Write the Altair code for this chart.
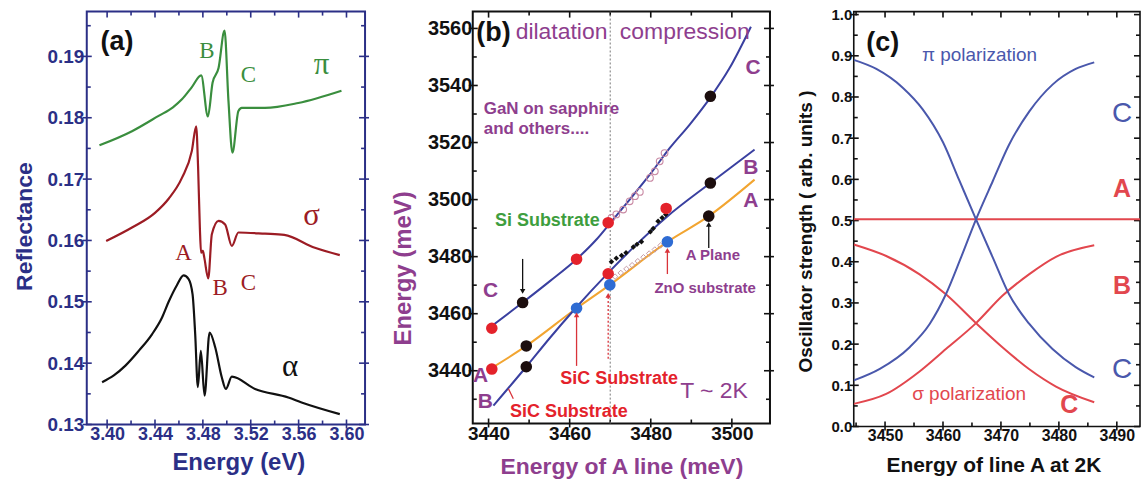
import altair as alt
import pandas as pd

SANS = "Liberation Sans"
SERIF = "Liberation Serif"
NAVY = "#2B2F86"
PURPLE = "#8E3E8E"
GREEN_A = "#3A8E3E"
RED_A = "#9C1C24"
BLACK = "#111111"
BLUE_L = "#3A40A0"
ORANGE = "#F2A531"
DOT_RED = "#E4222B"
DOT_BLUE = "#2F6CD3"
C_BLUE = "#4A58AC"
C_RED = "#E2474E"

# ---------------- panel (a) : reflectance ----------------
A_W, A_H = 279, 414
A_XDOM = [3.383, 3.6155]
A_YDOM = [0.13, 0.1973]
a_xticks = [3.40, 3.44, 3.48, 3.52, 3.56, 3.60]
a_xminor = [3.42, 3.46, 3.50, 3.54, 3.58]
a_yticks = [0.13, 0.14, 0.15, 0.16, 0.17, 0.18, 0.19]
a_yminor = [0.135, 0.145, 0.155, 0.165, 0.175, 0.185, 0.195]

pi_E = [3.3936, 3.4208, 3.4430, 3.4550, 3.4625, 3.4708, 3.4786, 3.4842, 3.4881, 3.4931,
        3.4981, 3.5014, 3.5047, 3.5097, 3.5125, 3.5319, 3.5597, 3.5958]
pi_R = [0.1755, 0.1778, 0.1803, 0.1817, 0.1830, 0.1850, 0.1869, 0.1802, 0.1857, 0.1881,
        0.1942, 0.1827, 0.1743, 0.1811, 0.1816, 0.1816, 0.1824, 0.1844]

sig_E = [3.3992, 3.4208, 3.4400, 3.4514, 3.4625, 3.4708, 3.4744, 3.4760, 3.4775, 3.4785,
         3.4800, 3.4812, 3.4845, 3.4875, 3.4931, 3.4986, 3.5042, 3.5097, 3.5319,
         3.5480, 3.5736, 3.5944]
sig_R = [0.1599, 0.1621, 0.1645, 0.1668, 0.1702, 0.1746, 0.1786, 0.1720, 0.1620, 0.1580,
         0.1583, 0.1572, 0.1538, 0.1610, 0.1632, 0.1626, 0.1591, 0.1613, 0.1611,
         0.1609, 0.1588, 0.1576]

alp_E = [3.3958, 3.4056, 3.4153, 3.4264, 3.4375, 3.4458, 3.4514, 3.4583, 3.4639,
         3.4681, 3.4714, 3.4736, 3.4758, 3.4783, 3.4814, 3.4856, 3.4903, 3.4958,
         3.4992, 3.5042, 3.5236, 3.5514, 3.5625, 3.5944]
alp_R = [0.1369, 0.1380, 0.1396, 0.1420, 0.1447, 0.1474, 0.1500, 0.1527, 0.1543,
         0.1537, 0.1512, 0.1447, 0.1361, 0.1420, 0.1347, 0.1450, 0.1426, 0.1377,
         0.1358, 0.1378, 0.1358, 0.1344, 0.1336, 0.1317]

a_lab_x = [3.4833, 3.5181]
a_lab_y = [0.1908, 0.1869]
a_lab_t = ["B", "C"]
a_red_x = [3.4639, 3.4944, 3.5181]
a_red_y = [0.1580, 0.1523, 0.1531]
a_red_t = ["A", "B", "C"]
a_greek_x = [3.5792, 3.5708, 3.5528]
a_greek_y = [0.1886, 0.1640, 0.1394]
a_greek_t = ["π", "σ", "α"]

# ---------------- panel (b) : energies vs A line ----------------
B_W, B_H = 298, 413
B_XDOM = [3436.1, 3509.4]
B_YDOM = [3421.5, 3565.9]
b_xticks = [3440, 3460, 3480, 3500]
b_xminor = [3450, 3470, 3490]
b_yticks = [3440, 3460, 3480, 3500, 3520, 3540, 3560]
b_yminor = [3430, 3450, 3470, 3490, 3510, 3530, 3550]

lineC_X = [3440.8, 3448.4, 3455.2, 3461.7, 3466.6, 3470.7, 3474.8, 3479.8, 3484.7,
           3489.6, 3494.9, 3499.4, 3504.7]
lineC_Y = [3455.7, 3463.9, 3471.5, 3479.1, 3486.0, 3493.0, 3500.0, 3508.8, 3518.1,
           3526.3, 3536.2, 3546.0, 3560.6]
lineB_X = [3441.2, 3449.3, 3455.0, 3461.0, 3469.5, 3476.5, 3484.0, 3494.7, 3505.6]
lineB_Y = [3427.8, 3441.4, 3451.3, 3461.2, 3474.3, 3484.3, 3494.0, 3505.8, 3517.5]
lineA_X = [3440.8, 3449.3, 3461.7, 3469.9, 3484.1, 3494.3, 3505.6]
lineA_Y = [3441.0, 3448.7, 3461.9, 3470.1, 3485.2, 3494.2, 3507.0]

black_X = [3448.4, 3449.3, 3449.3, 3494.7, 3494.7, 3494.3]
black_Y = [3463.9, 3448.7, 3441.4, 3536.2, 3505.8, 3494.2]
red_X = [3440.8, 3440.8, 3461.7, 3469.5, 3469.5, 3483.8]
red_Y = [3454.9, 3440.6, 3479.1, 3491.9, 3474.0, 3496.9]
blue_X = [3461.7, 3469.9, 3484.1]
blue_Y = [3461.9, 3470.1, 3485.2]

small_X = [3470.3, 3471.5, 3472.8, 3473.9, 3475.7, 3476.6, 3477.7, 3479.9, 3480.6,
           3481.8, 3482.8, 3483.7]
small_Y = [3478.2, 3479.4, 3480.4, 3481.4, 3483.4, 3484.3, 3485.2, 3488.7, 3489.9,
           3492.4, 3493.6, 3494.8]
openC_X = [3470.3, 3471.5, 3473.2, 3474.8, 3476.1, 3477.3, 3479.8, 3481.0, 3482.2, 3483.4]
openC_Y = [3493.6, 3494.8, 3496.5, 3499.4, 3501.2, 3502.7, 3507.6, 3509.9, 3513.4, 3516.3]
openA_X = [3471.2, 3472.6, 3474.0, 3475.4, 3476.8, 3478.2, 3479.6, 3481.0, 3482.4]
openA_Y = [3473.0, 3474.3, 3475.7, 3477.0, 3478.4, 3479.8, 3481.1, 3482.5, 3483.9]

strain_boundary = [3470]

b_big_x = [3458.0, 3488.4, 3495.6]
b_big_y = [3558.9, 3558.9, 3433.0]
b_big_t = ["dilatation", "compression", "T ~ 2K"]
b_line_x = [3440.5, 3505.2, 3504.7, 3504.7, 3438.0, 3439.2]
b_line_y = [3468.0, 3546.1, 3511.1, 3499.4, 3438.3, 3428.9]
b_line_t = ["C", "C", "B", "A", "A", "B"]
b_gan_x = [3438.8, 3438.8]
b_gan_y = [3531.6, 3524.6]
b_gan_t = ["GaN on sapphire", "and others...."]
b_small_x = [3495.3, 3493.4]
b_small_y = [3480.6, 3469.1]
b_small_t = ["A Plane", "ZnO substrate"]
b_sic_x = [3472.2, 3459.8]
b_sic_y = [3437.2, 3425.4]
b_sic_t = ["SiC Substrate", "SiC Substrate"]
b_si_x = [3454.5]
b_si_y = [3492.4]
b_si_t = ["Si Substrate"]

arrow_blk_x = [3448.4, 3494.3]
arrow_blk_y = [3479.2, 3483.0]
arrow_blk_y2 = [3467.8, 3491.3]
arrow_red_x = [3461.7, 3484.1, 3446.1]
arrow_red_x2 = [3461.7, 3484.1, 3444.9]
arrow_red_y = [3441.7, 3473.9, 3430.2]
arrow_red_y2 = [3459.6, 3482.2, 3433.7]
arrow_dot_x = [3469.5]
arrow_dot_y = [3444.2]
arrow_dot_y2 = [3466.4]

# ---------------- panel (c) : oscillator strength ----------------
C_W, C_H = 287, 416
C_XDOM = [3444.6, 3494.0]
C_YDOM = [0.0, 1.0073]
c_xticks = [3450, 3460, 3470, 3480, 3490]
c_xminor = [3445, 3455, 3465, 3475, 3485]
c_yticks = [0.0, 0.1, 0.2, 0.3, 0.4, 0.5, 0.6, 0.7, 0.8, 0.9, 1.0]
c_yminor = [0.05, 0.15, 0.25, 0.35, 0.45, 0.55, 0.65, 0.75, 0.85, 0.95]

piC1_X = [3444.6, 3448.5, 3453.1, 3456.5, 3460.0, 3462.8, 3465.7, 3468.6, 3471.4,
          3474.9, 3478.9, 3482.9, 3486.1]
piC1_Y = [0.890, 0.868, 0.822, 0.770, 0.690, 0.598, 0.503, 0.410, 0.321,
          0.249, 0.188, 0.144, 0.119]
piC2_X = [3444.6, 3449.1, 3454.2, 3457.7, 3460.5, 3463.1, 3465.7, 3468.6, 3471.4,
          3474.9, 3478.9, 3482.9, 3486.1]
piC2_Y = [0.112, 0.140, 0.192, 0.249, 0.321, 0.410, 0.503, 0.596, 0.684,
          0.765, 0.830, 0.868, 0.884]
sgC1_X = [3444.6, 3450.2, 3455.9, 3460.5, 3465.7, 3470.3, 3474.9, 3479.5, 3486.1]
sgC1_Y = [0.442, 0.414, 0.370, 0.321, 0.251, 0.192, 0.139, 0.097, 0.059]
sgC2_X = [3444.6, 3450.2, 3455.9, 3460.5, 3465.7, 3470.3, 3474.9, 3479.5, 3486.1]
sgC2_Y = [0.055, 0.079, 0.133, 0.188, 0.251, 0.318, 0.370, 0.412, 0.440]
lineA_c_X = [3444.6, 3494.0]
lineA_c_Y = [0.503, 0.503]

c_blue_x = [3466.3]
c_blue_y = [0.903]
c_blue_t = ["π polarization"]
c_redtxt_x = [3464.5]
c_redtxt_y = [0.080]
c_redtxt_t = ["σ polarization"]
c_bC_x = [3490.9, 3490.9]
c_bC_y = [0.758, 0.136]
c_bC_t = ["C", "C"]
c_rL_x = [3490.9, 3490.9, 3481.8]
c_rL_y = [0.576, 0.341, 0.051]
c_rL_t = ["A", "B", "C"]

panel_tag_t = ["(a)", "(b)", "(c)"]


def lin(dom):
    return alt.Scale(domain=dom, nice=False, zero=False)


def enc_xy(xdom, ydom):
    return dict(x=alt.X("x:Q", scale=lin(xdom), axis=None),
                y=alt.Y("y:Q", scale=lin(ydom), axis=None))


def line_layer(xs, ys, xdom, ydom, color, width=2.2, interp="monotone"):
    df = pd.DataFrame({"x": xs, "y": ys})
    return alt.Chart(df).mark_line(color=color, strokeWidth=width, interpolate=interp,
                                   clip=True).encode(**enc_xy(xdom, ydom))


def point_layer(xs, ys, xdom, ydom, color, size, shape="circle", filled=True, sw=1.0):
    df = pd.DataFrame({"x": xs, "y": ys})
    return alt.Chart(df).mark_point(filled=filled, shape=shape, size=size, color=color,
                                    opacity=1, strokeWidth=sw).encode(**enc_xy(xdom, ydom))


def text_layer(xs, ys, ts, xdom, ydom, color, size, font=SANS, weight="normal",
               align="center"):
    df = pd.DataFrame({"x": xs, "y": ys, "t": ts})
    return alt.Chart(df).mark_text(color=color, fontSize=size, font=font, fontWeight=weight,
                                   align=align, baseline="middle").encode(
        text="t:N", **enc_xy(xdom, ydom))


def rule_layer(xs, x2s, ys, y2s, xdom, ydom, color, width=1.3, dash=None):
    df = pd.DataFrame({"x": xs, "x2": x2s, "y": ys, "y2": y2s})
    kw = dict(color=color, strokeWidth=width)
    if dash is not None:
        kw["strokeDash"] = dash
    return alt.Chart(df).mark_rule(**kw).encode(
        x=alt.X("x:Q", scale=lin(xdom), axis=None), x2="x2:Q",
        y=alt.Y("y:Q", scale=lin(ydom), axis=None), y2="y2:Q")


def tick_layer(xdom, ydom, w, h, xmaj, xmin, ymaj, ymin, color, right_out=4):
    """Frame ticks on all four sides, placed at the tick values (lengths in pixels)."""
    kx = (xdom[1] - xdom[0]) / w
    ky = (ydom[1] - ydom[0]) / h
    xs, x2s, ys, y2s = [], [], [], []

    def add(a, b, c, d):
        xs.append(a); x2s.append(b); ys.append(c); y2s.append(d)

    for v in xmaj:
        add(v, v, ydom[0] - 4 * ky, ydom[0] + 5 * ky)
        add(v, v, ydom[1] - 6 * ky, ydom[1])
    for v in xmin:
        add(v, v, ydom[0], ydom[0] + 4 * ky)
        add(v, v, ydom[1] - 4 * ky, ydom[1])
    for v in ymaj:
        add(xdom[0] - 4 * kx, xdom[0] + 5 * kx, v, v)
        add(xdom[1] - 6 * kx, xdom[1] + right_out * kx, v, v)
    for v in ymin:
        add(xdom[0], xdom[0] + 4 * kx, v, v)
        add(xdom[1] - 4 * kx, xdom[1], v, v)
    return rule_layer(xs, x2s, ys, y2s, xdom, ydom, color, width=1.6)


def axis_layer(xdom, ydom, xmaj, ymaj, xfmt, yfmt, xtitle, ytitle, label_color, title_color,
               xlab_size, ylab_size, xtitle_size, ytitle_size, xlab_pad, ylab_pad,
               xtitle_pad, ytitle_pad, xtitle_x, ytitle_y):
    df = pd.DataFrame({"x": [xdom[0]], "y": [ydom[0]]})
    com = dict(domain=False, grid=False, ticks=True, tickSize=1, tickOpacity=0,
               labelFlush=False, labelOverlap=False, labelFont=SANS, labelFontWeight="bold",
               labelColor=label_color, titleFont=SANS, titleFontWeight="bold",
               titleColor=title_color)
    return alt.Chart(df).mark_point(opacity=0).encode(
        x=alt.X("x:Q", scale=lin(xdom), axis=alt.Axis(
            orient="bottom", values=xmaj, format=xfmt, labelFontSize=xlab_size,
            labelPadding=xlab_pad, title=xtitle, titleFontSize=xtitle_size,
            titlePadding=xtitle_pad, titleX=xtitle_x, **com)),
        y=alt.Y("y:Q", scale=lin(ydom), axis=alt.Axis(
            orient="left", values=ymaj, format=yfmt, labelFontSize=ylab_size,
            labelPadding=ylab_pad, title=ytitle, titleFontSize=ytitle_size,
            titlePadding=ytitle_pad, titleY=ytitle_y, **com)))


# ---------- build panel (a)
pa_layers = [
    axis_layer(A_XDOM, A_YDOM, a_xticks, a_yticks, ".2f", ".2f", "Energy (eV)", "Reflectance",
               NAVY, NAVY, 18, 19, 24, 23, 0, 2, 7, 10, 152, 215),
    tick_layer(A_XDOM, A_YDOM, A_W, A_H, a_xticks, a_xminor, a_yticks, a_yminor, NAVY),
    line_layer(pi_E, pi_R, A_XDOM, A_YDOM, GREEN_A),
    line_layer(sig_E, sig_R, A_XDOM, A_YDOM, RED_A),
    line_layer(alp_E, alp_R, A_XDOM, A_YDOM, BLACK),
    text_layer([3.4083], [0.1923], [panel_tag_t[0]], A_XDOM, A_YDOM, BLACK, 27, weight="bold"),
    text_layer(a_lab_x, a_lab_y, a_lab_t, A_XDOM, A_YDOM, GREEN_A, 23, font=SERIF),
    text_layer(a_red_x, a_red_y, a_red_t, A_XDOM, A_YDOM, RED_A, 23, font=SERIF),
    text_layer(a_greek_x[:1], a_greek_y[:1], a_greek_t[:1], A_XDOM, A_YDOM, GREEN_A, 31,
               font=SERIF),
    text_layer(a_greek_x[1:2], a_greek_y[1:2], a_greek_t[1:2], A_XDOM, A_YDOM, RED_A, 31,
               font=SERIF),
    text_layer(a_greek_x[2:], a_greek_y[2:], a_greek_t[2:], A_XDOM, A_YDOM, BLACK, 31,
               font=SERIF),
]
panel_a = alt.layer(*pa_layers).resolve_axis(x="independent", y="independent").properties(
    width=A_W, height=A_H, view=alt.ViewBackground(stroke=NAVY, strokeWidth=2))

# ---------- build panel (b)
pb_layers = [
    axis_layer(B_XDOM, B_YDOM, b_xticks, b_yticks, "d", "d", "Energy of A line (meV)",
               "Energy (meV)", BLACK, PURPLE, 19, 20, 23, 24, 0, 0, 12, 12, 149, 257),
    tick_layer(B_XDOM, B_YDOM, B_W, B_H, b_xticks, b_xminor, b_yticks, b_yminor, BLACK),
    rule_layer(strain_boundary, strain_boundary, [B_YDOM[0]], [B_YDOM[1]], B_XDOM, B_YDOM,
               "#777777", width=1, dash=[2, 2]),
    line_layer(lineA_X, lineA_Y, B_XDOM, B_YDOM, ORANGE, width=2),
    line_layer(lineB_X, lineB_Y, B_XDOM, B_YDOM, BLUE_L, width=2),
    line_layer(lineC_X, lineC_Y, B_XDOM, B_YDOM, BLUE_L, width=2),
    point_layer(openA_X, openA_Y, B_XDOM, B_YDOM, "#C49AA6", 30, shape="diamond",
                filled=False, sw=1),
    point_layer(openC_X, openC_Y, B_XDOM, B_YDOM, "#C98AA4", 45, filled=False, sw=1.1),
    point_layer(small_X, small_Y, B_XDOM, B_YDOM, BLACK, 30, shape="diamond"),
    point_layer(black_X, black_Y, B_XDOM, B_YDOM, "#1C0E0E", 135),
    point_layer(red_X, red_Y, B_XDOM, B_YDOM, DOT_RED, 135),
    point_layer(blue_X, blue_Y, B_XDOM, B_YDOM, DOT_BLUE, 135),
    rule_layer(arrow_blk_x, arrow_blk_x, arrow_blk_y, arrow_blk_y2, B_XDOM, B_YDOM, BLACK),
    point_layer([arrow_blk_x[0]], [arrow_blk_y2[0]], B_XDOM, B_YDOM, BLACK, 30,
                shape="triangle-down"),
    point_layer([arrow_blk_x[1]], [arrow_blk_y2[1]], B_XDOM, B_YDOM, BLACK, 30,
                shape="triangle-up"),
    rule_layer(arrow_red_x, arrow_red_x2, arrow_red_y, arrow_red_y2, B_XDOM, B_YDOM, "#D9333A"),
    rule_layer(arrow_dot_x, arrow_dot_x, arrow_dot_y, arrow_dot_y2, B_XDOM, B_YDOM, "#D9333A",
               dash=[2, 2]),
    point_layer(arrow_red_x2[:2] + arrow_dot_x, arrow_red_y2[:2] + arrow_dot_y2, B_XDOM, B_YDOM,
                "#D9333A", 30, shape="triangle-up"),
    text_layer([3441.2], [3558.5], [panel_tag_t[1]], B_XDOM, B_YDOM, BLACK, 27, weight="bold"),
    text_layer(b_big_x, b_big_y, b_big_t, B_XDOM, B_YDOM, PURPLE, 23),
    text_layer(b_line_x, b_line_y, b_line_t, B_XDOM, B_YDOM, PURPLE, 21, weight="bold"),
    text_layer(b_gan_x, b_gan_y, b_gan_t, B_XDOM, B_YDOM, PURPLE, 17, weight="bold",
               align="left"),
    text_layer(b_small_x, b_small_y, b_small_t, B_XDOM, B_YDOM, PURPLE, 15, weight="bold"),
    text_layer(b_sic_x, b_sic_y, b_sic_t, B_XDOM, B_YDOM, DOT_RED, 18, weight="bold"),
    text_layer(b_si_x, b_si_y, b_si_t, B_XDOM, B_YDOM, "#3E9E3E", 18, weight="bold"),
]
panel_b = alt.layer(*pb_layers).resolve_axis(x="independent", y="independent").properties(
    width=B_W, height=B_H, view=alt.ViewBackground(stroke=BLACK, strokeWidth=2))

# ---------- build panel (c)
pc_layers = [
    axis_layer(C_XDOM, C_YDOM, c_xticks, c_yticks, "d", ".1f", "Energy of line A at 2K",
               "Oscillator strength ( arb. units )", BLACK, BLACK, 16, 15, 21, 19, 0, 1, 11,
               16, 140, 220),
    tick_layer(C_XDOM, C_YDOM, C_W, C_H, c_xticks, c_xminor, c_yticks, c_yminor, BLACK,
               right_out=0),
    line_layer(lineA_c_X, lineA_c_Y, C_XDOM, C_YDOM, C_RED, width=2, interp="linear"),
    line_layer(sgC1_X, sgC1_Y, C_XDOM, C_YDOM, C_RED, width=2),
    line_layer(sgC2_X, sgC2_Y, C_XDOM, C_YDOM, C_RED, width=2),
    line_layer(piC1_X, piC1_Y, C_XDOM, C_YDOM, C_BLUE, width=2),
    line_layer(piC2_X, piC2_Y, C_XDOM, C_YDOM, C_BLUE, width=2),
    text_layer([3449.6], [0.930], [panel_tag_t[2]], C_XDOM, C_YDOM, BLACK, 27, weight="bold"),
    text_layer(c_blue_x, c_blue_y, c_blue_t, C_XDOM, C_YDOM, C_BLUE, 19),
    text_layer(c_redtxt_x, c_redtxt_y, c_redtxt_t, C_XDOM, C_YDOM, C_RED, 19),
    text_layer(c_bC_x, c_bC_y, c_bC_t, C_XDOM, C_YDOM, C_BLUE, 28),
    text_layer(c_rL_x, c_rL_y, c_rL_t, C_XDOM, C_YDOM, C_RED, 25, weight="bold"),
]
panel_c = alt.layer(*pc_layers).resolve_axis(x="independent", y="independent").properties(
    width=C_W, height=C_H, view=alt.ViewBackground(stroke=BLACK, strokeWidth=1.6))

chart = alt.hconcat(panel_a, panel_b, panel_c, spacing=19).properties(
    padding={"left": 13, "top": 6, "right": 0, "bottom": 0},
    background="white")

chart.save("out.html", embed_options={"renderer": "svg", "actions": False})
